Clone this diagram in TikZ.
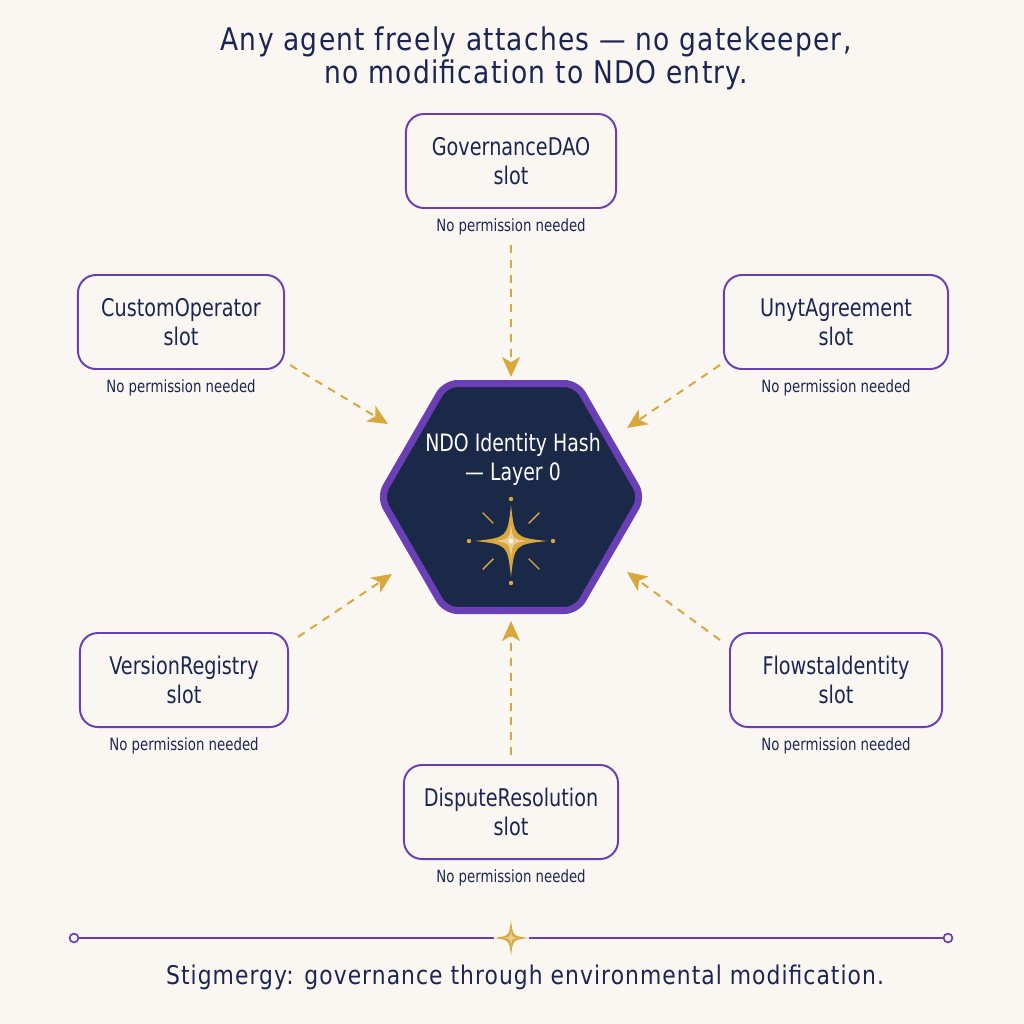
\documentclass[tikz,border=0pt]{standalone}
\usepackage{fontspec}
\setmainfont{DejaVu Sans}[FakeStretch=0.79]
\newfontfamily\headfont{DejaVu Sans}[FakeStretch=0.85, LetterSpace=4]
\usepackage{xcolor}
\usetikzlibrary{shapes.geometric, arrows.meta, positioning, calc}

\definecolor{paper}{HTML}{FAF7F2}
\definecolor{ink}{HTML}{1C2452}
\definecolor{violet}{HTML}{6A3FB5}
\definecolor{hexfill}{HTML}{1B2949}
\definecolor{gold}{HTML}{D9A83C}

\tikzset{
    slotbox/.style={draw=violet, line width=1.4pt, rounded corners=0.45cm, fill=paper, text=ink,
        align=center, minimum height=2.35cm, font=\fontsize{17.3}{20.6}\selectfont},
    permnote/.style={text=ink, inner sep=1pt, font=\fontsize{12}{13}\selectfont},
    attach/.style={draw=gold, line width=1.4pt, dash pattern=on 0.2cm off 0.17cm,
        -{Stealth[length=0.5cm, width=0.45cm, inset=0.13cm]}},
    hexcore/.style={regular polygon, regular polygon sides=6, minimum size=6.55cm, inner sep=0pt,
        draw=violet, line width=5pt, fill=hexfill, rounded corners=0.3cm},
    ringdot/.style={circle, draw=violet, line width=1.2pt, fill=paper, minimum size=0.22cm, inner sep=0pt}
}

% four-point star: centre x, centre y, arm
\newcommand{\Sparkle}[3]{%
    \begin{scope}[shift={(#1,#2)}]
        \fill[gold] (0,-#3) .. controls (0.1*#3,-0.1*#3) .. (#3,0) .. controls (0.1*#3,0.1*#3) .. (0,#3)
            .. controls (-0.1*#3,0.1*#3) .. (-#3,0) .. controls (-0.1*#3,-0.1*#3) .. cycle;
        \fill[gold!55!white] (0,-0.45*#3) .. controls (0.05*#3,-0.05*#3) .. (0.45*#3,0) .. controls (0.05*#3,0.05*#3) .. (0,0.45*#3)
            .. controls (-0.05*#3,0.05*#3) .. (-0.45*#3,0) .. controls (-0.05*#3,-0.05*#3) .. cycle;
    \end{scope}}

\begin{document}
\begin{tikzpicture}[x=0.025cm, y=-0.025cm]
        \fill[paper] (0,0) rectangle (1024,1024);
        \useasboundingbox (0,0) rectangle (1024,1024);

        % headline
        \node[text=ink, align=center, font=\headfont\fontsize{22.2}{23.5}\selectfont] (headline) at (536,58)
            {Any agent freely attaches — no gatekeeper,\\no modification to NDO entry.};

        % Layer 0 core
        \node[hexcore] (hash) at (511,497) {};
        \node[text=white, align=center, font=\fontsize{17}{20.6}\selectfont] (hashtitle) at (513,459)
            {NDO Identity Hash\\— Layer 0};
        \Sparkle{511}{541}{36}
        \fill[white!90!gold] (511,541) circle (0.06cm);
        \foreach \a in {0,90,180,270} \fill[gold] ($(511,541)+(\a:42)$) circle (0.055cm);
        \foreach \a in {45,135,225,315} \draw[gold, line width=1pt] ($(511,541)+(\a:25)$) -- ($(511,541)+(\a:40)$);

        % slots
        \node[slotbox, minimum width=5.25cm] (gov) at (511,161) {GovernanceDAO\\slot};
        \node[permnote, below=2mm of gov] (gov-note) {No permission needed};
        \node[slotbox, minimum width=5.15cm] (custom) at (181,322) {CustomOperator\\slot};
        \node[permnote, below=2mm of custom] (custom-note) {No permission needed};
        \node[slotbox, minimum width=5.6cm] (unyt) at (836,322) {UnytAgreement\\slot};
        \node[permnote, below=2mm of unyt] (unyt-note) {No permission needed};
        \node[slotbox, minimum width=5.2cm] (version) at (184,680) {VersionRegistry\\slot};
        \node[permnote, below=2mm of version] (version-note) {No permission needed};
        \node[slotbox, minimum width=5.3cm] (flowsta) at (836,680) {FlowstaIdentity\\slot};
        \node[permnote, below=2mm of flowsta] (flowsta-note) {No permission needed};
        \node[slotbox, minimum width=5.35cm] (dispute) at (511,812) {DisputeResolution\\slot};
        \node[permnote, below=2mm of dispute] (dispute-note) {No permission needed};

        % attachment ends
        \coordinate (gov-tail) at (511,245);
        \coordinate (gov-head) at (511,377);
        \coordinate (custom-tail) at (290,365);
        \coordinate (custom-head) at (388,424);
        \coordinate (unyt-tail) at (720,365);
        \coordinate (unyt-head) at (627,428);
        \coordinate (version-tail) at (298,637);
        \coordinate (version-head) at (392,574);
        \coordinate (flowsta-tail) at (720,640);
        \coordinate (flowsta-head) at (627,572);
        \coordinate (dispute-tail) at (511,755);
        \coordinate (dispute-head) at (511,621);

        \draw[attach] (gov-tail) -- (gov-head);
        \draw[attach] (custom-tail) -- (custom-head);
        \draw[attach] (unyt-tail) -- (unyt-head);
        \draw[attach] (version-tail) -- (version-head);
        \draw[attach] (flowsta-tail) -- (flowsta-head);
        \draw[attach] (dispute-tail) -- (dispute-head);

        % footer rule
        \coordinate (rule-ml) at (494,938);
        \coordinate (rule-mr) at (529,938);
        \node[ringdot] (rule-l) at (74,938) {};
        \node[ringdot] (rule-r) at (948,938) {};
        \draw[violet, line width=1.2pt] (rule-l) -- (rule-ml);
        \draw[violet, line width=1.2pt] (rule-mr) -- (rule-r);
        \Sparkle{511}{938}{18}

        \node[text=ink, font=\headfont\fontsize{18.3}{20}\selectfont] (motto) at (525,977)
            {Stigmergy: governance through environmental modification.};
    \end{tikzpicture}
\end{document}
